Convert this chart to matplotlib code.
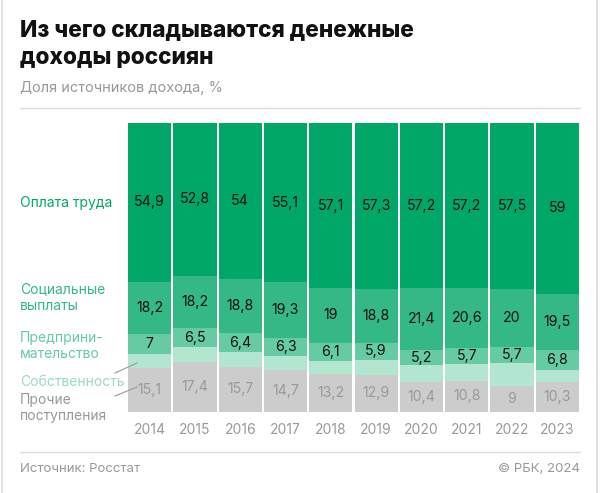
import matplotlib
matplotlib.use("Agg")
import matplotlib.pyplot as plt
from matplotlib.lines import Line2D

years = ["2014", "2015", "2016", "2017", "2018", "2019", "2020", "2021", "2022", "2023"]
wages = [54.9, 52.8, 54, 55.1, 57.1, 57.3, 57.2, 57.2, 57.5, 59]
social = [18.2, 18.2, 18.8, 19.3, 19, 18.8, 21.4, 20.6, 20, 19.5]
business = [7, 6.5, 6.4, 6.3, 6.1, 5.9, 5.2, 5.7, 5.7, 6.8]
other = [15.1, 17.4, 15.7, 14.7, 13.2, 12.9, 10.4, 10.8, 9, 10.3]
# property share: remainder up to 100%
prop = [round(100 - w - s - b - o, 1) for w, s, b, o in zip(wages, social, business, other)]

series_names = ["Прочие\nпоступления", "Собственность", "Предприни-\nмательство", "Социальные\nвыплаты", "Оплата труда"]
colors = ["#cccccc", "#b3e6d1", "#66cba3", "#33b886", "#00a766"]
label_colors = ["#999999", "#99dcc0", "#66cba3", "#33b886", "#00a766"]

plt.rcParams['font.family'] = ['Inter', 'DejaVu Sans']

W, H = 600, 493
fig = plt.figure(figsize=(6, 4.93), dpi=100)

def fx(x):
    return x / W

def fy(y):
    return 1 - y / H

ax = fig.add_axes([fx(127), fy(412), fx(580) - fx(127), fy(123) - fy(412)])
stack = [other, prop, business, social, wages]
bottoms = [0] * len(years)
xs = list(range(len(years)))
for i, (vals, c) in enumerate(zip(stack, colors)):
    ax.bar(xs, vals, bottom=bottoms, width=0.955, color=c, edgecolor='none')
    if i != 1:
        for x, v, b in zip(xs, vals, bottoms):
            txt = f"{v:g}".replace(".", ",")
            ax.text(x, b + v / 2, txt, ha='center', va='center', fontsize=10.2,
                    color="#999999" if i == 0 else "#111111")
    bottoms = [b + v for b, v in zip(bottoms, vals)]

ax.set_xlim(-0.5, len(years) - 0.5)
ax.set_ylim(0, 100)
ax.axis('off')

for x, yr in zip(xs, years):
    ax.text(x, -6.4, yr, ha='center', va='center', fontsize=10, color="#999999")

# Title & subtitle
fig.text(fx(20), fy(30), "Из чего складываются денежные", fontsize=16.3, fontweight='heavy',
         color="#111111", va='center', ha='left')
fig.text(fx(20), fy(58), "доходы россиян", fontsize=16.3, fontweight='heavy',
         color="#111111", va='center', ha='left')
fig.text(fx(20), fy(88), "Доля источников дохода, %", fontsize=10.5, color="#999999",
         va='center', ha='left')

fig.add_artist(Line2D([fx(20), fx(580)], [fy(108), fy(108)], color="#dddddd", lw=1))
fig.add_artist(Line2D([fx(20), fx(580)], [fy(452), fy(452)], color="#dddddd", lw=1))
fig.add_artist(Line2D([fx(1.5), fx(1.5)], [0, 1], color="#dddddd", lw=1.2))
fig.add_artist(Line2D([fx(596.5), fx(596.5)], [0, 1], color="#dddddd", lw=1.2))

# Legend labels
legend_pos = [(408, label_colors[0], series_names[0]),
              (382, label_colors[1], series_names[1]),
              (346, label_colors[2], series_names[2]),
              (298, label_colors[3], series_names[3]),
              (203, label_colors[4], series_names[4])]
for y, c, t in legend_pos:
    fig.text(fx(20), fy(y), t, fontsize=10, color=c, va='center', ha='left', linespacing=1.25)

# leader lines
fig.add_artist(Line2D([fx(115), fx(137)], [fy(373), fy(363)], color="#999999", lw=0.8))
fig.add_artist(Line2D([fx(115), fx(137)], [fy(396), fy(387)], color="#999999", lw=0.8))

fig.text(fx(20), fy(469), "Источник: Росстат", fontsize=9.5, color="#999999", va='center', ha='left')
fig.text(fx(580), fy(469), "© РБК, 2024", fontsize=9.5, color="#999999", va='center', ha='right')

fig.savefig("out.png", dpi=100, facecolor='white')
